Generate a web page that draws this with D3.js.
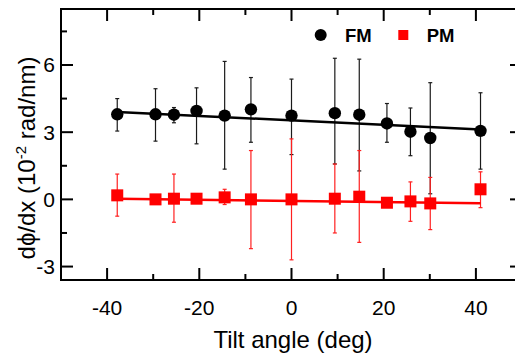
<!DOCTYPE html>
<html>
<head>
<meta charset="utf-8">
<script src="https://cdn.jsdelivr.net/npm/d3@7"></script>
<style>
  body { margin: 0; background: #fff; }
  text { font-family: Arial, "Liberation Sans", sans-serif; }
</style>
</head>
<body>
<svg id="chart" width="515" height="354"></svg>
<script>
// tilt angles (deg)
const angles = [-37.8, -29.5, -25.5, -20.6, -14.5, -8.8, 0, 9.4, 14.7, 20.7, 25.8, 30.1, 41];

// FM series (10^-2 rad/nm)
const fm   = [3.80, 3.80, 3.78, 3.95, 3.74, 4.02, 3.74, 3.85, 3.78, 3.39, 3.02, 2.74, 3.06];
const fmHi = [4.50, 4.94, 4.10, 4.98, 6.16, 5.44, 5.37, 6.30, 6.26, 4.28, 4.08, 5.21, 4.76];
const fmLo = [3.05, 2.60, 3.42, 2.48, 1.35, 2.55, 2.00, 1.58, 1.27, 2.55, 1.95, 0.25, 1.35];

// PM series
const pm   = [0.18, 0.00, 0.03, 0.03, 0.09, 0.00, 0.00, 0.03, 0.12, -0.15, -0.09, -0.18, 0.45];
const pmHi = [1.13, 0.10, 1.13, 0.05, 0.45, 2.18, 2.70, 1.58, 2.18, -0.10, 0.78, 0.98, 1.23];
const pmLo = [-0.75, -0.10, -1.02, 0.00, -0.23, -2.20, -2.70, -1.50, -1.92, -0.20, -0.98, -1.35, -0.37];

// linear fits
const fitX  = [-37.8, 41];
const fmFit = [3.90, 3.12];
const pmFit = [0.03, -0.17];

const xTicks = [-40, -20, 0, 20, 40];
const xMinor = [-30, -10, 10, 30];
const yTicks = [-3, 0, 3, 6];
const yMinor = [-1.5, 1.5, 4.5, 7.5];

const svg = d3.select('#chart');
const frame = { left: 61, right: 522, top: 9, bottom: 280 };

const x = d3.scaleLinear().domain([-50, 50]).range([frame.left, frame.right]);
const y = d3.scaleLinear().domain([-3.6, 8.5]).range([frame.bottom, frame.top]);

const plot = svg.append('g');

// error bars
function errorBars(lo, hi, color) {
  const g = plot.append('g').attr('stroke', color).attr('stroke-width', 1.2);
  angles.forEach((a, i) => {
    const px = x(a);
    g.append('line').attr('x1', px).attr('x2', px).attr('y1', y(lo[i])).attr('y2', y(hi[i]));
    [lo[i], hi[i]].forEach(v => {
      g.append('line').attr('x1', px - 2).attr('x2', px + 2).attr('y1', y(v)).attr('y2', y(v));
    });
  });
}
errorBars(fmLo, fmHi, '#1a1a1a');
errorBars(pmLo, pmHi, '#ff2020');

// fit lines
const line = d3.line().x(d => x(d[0])).y(d => y(d[1]));
plot.append('path')
  .attr('d', line(fitX.map((v, i) => [v, fmFit[i]])))
  .attr('stroke', '#000').attr('stroke-width', 2.5).attr('fill', 'none');
plot.append('path')
  .attr('d', line(fitX.map((v, i) => [v, pmFit[i]])))
  .attr('stroke', '#ff0000').attr('stroke-width', 2.5).attr('fill', 'none');

// markers
plot.append('g').selectAll('circle')
  .data(angles)
  .join('circle')
  .attr('cx', d => x(d))
  .attr('cy', (d, i) => y(fm[i]))
  .attr('r', 6.2)
  .attr('fill', '#000');

plot.append('g').selectAll('rect')
  .data(angles)
  .join('rect')
  .attr('x', d => x(d) - 6)
  .attr('y', (d, i) => y(pm[i]) - 6)
  .attr('width', 12)
  .attr('height', 12)
  .attr('fill', '#ff0000');

// axes (inward ticks, labels on bottom and left)
const axisG = svg.append('g').attr('stroke', '#000').attr('stroke-width', 2);
axisG.append('rect')
  .attr('x', frame.left).attr('y', frame.top)
  .attr('width', frame.right - frame.left).attr('height', frame.bottom - frame.top)
  .attr('fill', 'none');

function xTick(v, len) {
  axisG.append('line').attr('x1', x(v)).attr('x2', x(v)).attr('y1', frame.bottom).attr('y2', frame.bottom - len);
  axisG.append('line').attr('x1', x(v)).attr('x2', x(v)).attr('y1', frame.top).attr('y2', frame.top + len);
}
function yTick(v, len) {
  axisG.append('line').attr('x1', frame.left).attr('x2', frame.left + len).attr('y1', y(v)).attr('y2', y(v));
  axisG.append('line').attr('x1', frame.right).attr('x2', frame.right - len).attr('y1', y(v)).attr('y2', y(v));
}
xTicks.forEach(v => xTick(v, 12));
xMinor.forEach(v => xTick(v, 6));
yTicks.forEach(v => yTick(v, 12));
yMinor.forEach(v => yTick(v, 6));

svg.append('g').selectAll('text')
  .data(xTicks)
  .join('text')
  .attr('x', d => x(d))
  .attr('y', 315)
  .attr('text-anchor', 'middle')
  .attr('font-size', 21)
  .text(d => d);

svg.append('g').selectAll('text')
  .data(yTicks)
  .join('text')
  .attr('x', 55)
  .attr('y', d => y(d) + 7.5)
  .attr('text-anchor', 'end')
  .attr('font-size', 21)
  .text(d => d);

// axis titles
svg.append('text')
  .attr('x', 293)
  .attr('y', 348)
  .attr('text-anchor', 'middle')
  .attr('font-size', 24)
  .text('Tilt angle (deg)');

const yTitle = svg.append('text')
  .attr('transform', 'translate(35,158) rotate(-90)')
  .attr('text-anchor', 'middle')
  .attr('font-size', 24);
yTitle.append('tspan').text('dϕ/dx (10');
yTitle.append('tspan').attr('dy', -9).attr('font-size', 15).text('-2');
yTitle.append('tspan').attr('dy', 9).text(' rad/nm)');

// legend
const legend = svg.append('g');
legend.append('circle').attr('cx', 320.7).attr('cy', 35).attr('r', 6).attr('fill', '#000');
legend.append('text').attr('x', 345).attr('y', 41.7)
  .attr('font-size', 18.5).attr('font-weight', 'bold').text('FM');
legend.append('rect').attr('x', 398.3).attr('y', 30).attr('width', 10).attr('height', 10).attr('fill', '#ff0000');
legend.append('text').attr('x', 426.7).attr('y', 41.7)
  .attr('font-size', 18.5).attr('font-weight', 'bold').text('PM');
</script>
</body>
</html>
